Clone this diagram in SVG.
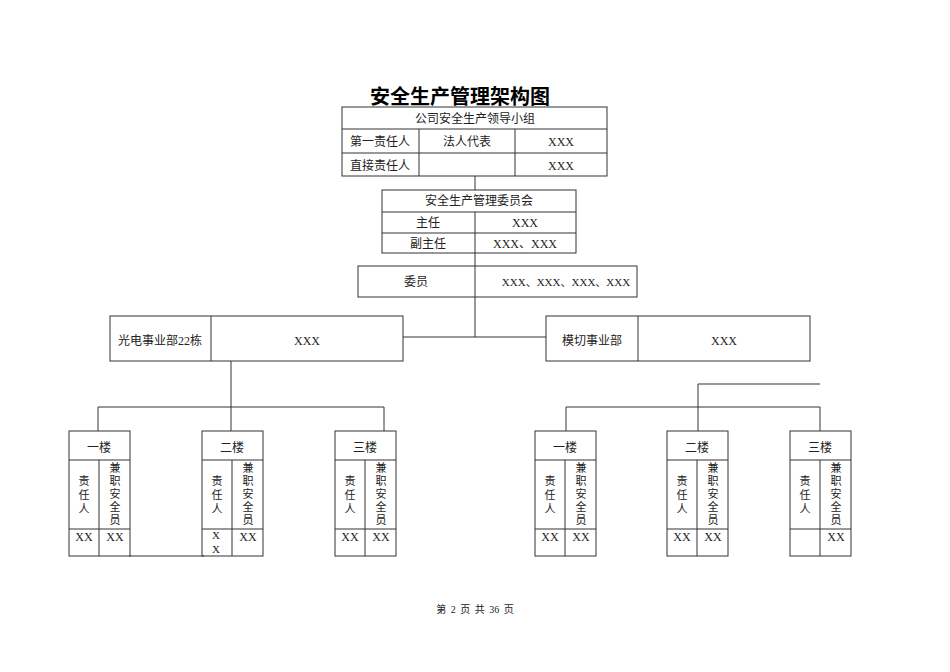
<svg xmlns="http://www.w3.org/2000/svg" width="950" height="672" viewBox="0 0 950 672">
<style>
rect,line,path{fill:none;stroke:#333;stroke-width:1}
text{font-family:"Liberation Serif","Noto Sans CJK SC",serif;font-size:12px;fill:#222;text-anchor:middle}
.t{font-family:"Noto Sans CJK SC",sans-serif;font-size:20px;font-weight:bold;fill:#000}
.f{font-size:10px;word-spacing:2px}
.v{font-size:11px}
.s{font-size:11px}
</style>
<rect x="0" y="0" width="950" height="672" style="fill:#fff;stroke:none"/>
<text class="t" x="460" y="104">安全生产管理架构图</text>
<g id="connectors">
<line x1="475" y1="176" x2="475" y2="190"/>
<line x1="475" y1="253" x2="475" y2="266"/>
<line x1="475" y1="297" x2="475" y2="337"/>
<line x1="403" y1="337" x2="546" y2="337"/>
<line x1="231" y1="361" x2="231" y2="431"/>
<path d="M98 431V407H384V431"/>
<line x1="129" y1="556" x2="204" y2="556"/>
<path d="M820 384H698V431"/>
<path d="M566 431V407H820V431"/>
</g>
<g id="leader">
<rect x="342" y="107" width="265" height="69"/>
<line x1="342" y1="129" x2="607" y2="129"/><line x1="342" y1="153" x2="607" y2="153"/>
<line x1="419" y1="129" x2="419" y2="176"/><line x1="515" y1="129" x2="515" y2="176"/>
<text x="475" y="123">公司安全生产领导小组</text>
<text x="380" y="146">第一责任人</text><text x="467" y="146">法人代表</text><text x="561" y="146">XXX</text>
<text x="380" y="170">直接责任人</text><text x="561" y="170">XXX</text>
</g>
<g id="committee">
<rect x="382" y="190" width="194" height="63"/>
<line x1="382" y1="212" x2="576" y2="212"/><line x1="382" y1="233" x2="576" y2="233"/>
<line x1="475" y1="212" x2="475" y2="253"/>
<text x="479" y="205">安全生产管理委员会</text>
<text x="428" y="227">主任</text><text x="525" y="227">XXX</text>
<text x="428" y="248">副主任</text><text x="525" y="248">XXX、XXX</text>
</g>
<g id="members">
<rect x="358" y="266" width="279" height="31"/>
<line x1="475" y1="266" x2="475" y2="297"/>
<text x="416" y="286">委员</text><text class="s" x="566" y="286">XXX、XXX、XXX、XXX</text>
</g>
<g id="dept1">
<rect x="110" y="316" width="293" height="45"/><line x1="211" y1="316" x2="211" y2="361"/>
<text x="160" y="345">光电事业部22栋</text><text x="307" y="345">XXX</text>
</g>
<g id="dept2">
<rect x="546" y="316" width="264" height="45"/><line x1="638" y1="316" x2="638" y2="361"/>
<text x="592" y="345">模切事业部</text><text x="724" y="345">XXX</text>
</g>
<defs>
<g id="fl">
<rect x="0" y="0" width="61" height="125"/>
<line x1="0" y1="29" x2="61" y2="29"/><line x1="0" y1="98" x2="61" y2="98"/>
<line x1="30" y1="29" x2="30" y2="125"/>
<text class="v" x="15" y="54">责</text><text class="v" x="15" y="68">任</text><text class="v" x="15" y="82">人</text>
<text class="v" x="46" y="41">兼</text><text class="v" x="46" y="54">职</text><text class="v" x="46" y="67">安</text><text class="v" x="46" y="80">全</text><text class="v" x="46" y="93">员</text>
</g>
</defs>
<g id="l1"><use href="#fl" x="69" y="431"/><text x="99" y="452">一楼</text><text x="84" y="541">XX</text><text x="115" y="541">XX</text></g>
<g id="l2"><use href="#fl" x="202" y="431"/><text x="232" y="452">二楼</text><text class="v" x="216" y="539">X</text><text class="v" x="216" y="553">X</text><text x="248" y="541">XX</text></g>
<g id="l3"><use href="#fl" x="335" y="431"/><text x="365" y="452">三楼</text><text x="350" y="541">XX</text><text x="381" y="541">XX</text></g>
<g id="r1"><use href="#fl" x="535" y="431"/><text x="565" y="452">一楼</text><text x="550" y="541">XX</text><text x="581" y="541">XX</text></g>
<g id="r2"><use href="#fl" x="667" y="431"/><text x="697" y="452">二楼</text><text x="682" y="541">XX</text><text x="713" y="541">XX</text></g>
<g id="r3"><use href="#fl" x="790" y="431"/><text x="820" y="452">三楼</text><text x="836" y="541">XX</text></g>
<text class="f" x="475" y="613">第 2 页 共 36 页</text>
</svg>
